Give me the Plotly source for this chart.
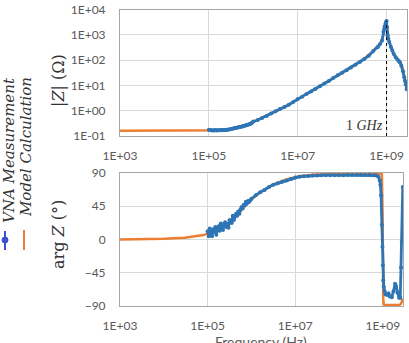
import plotly.graph_objects as go

# ---------------- data ----------------
# VNA measurement (frequency in Hz)
meas_freq = [
    1.00e5, 1.06e5, 1.12e5, 1.19e5, 1.26e5, 1.33e5, 1.41e5, 1.50e5, 1.58e5, 1.68e5,
    1.78e5, 1.88e5, 2.00e5, 2.11e5, 2.24e5, 2.37e5, 2.51e5, 2.66e5, 2.82e5, 2.99e5,
    3.16e5, 3.35e5, 3.55e5, 3.76e5, 3.98e5, 4.22e5, 4.47e5, 4.73e5, 5.01e5, 5.31e5,
    5.62e5, 5.96e5, 6.31e5, 6.68e5, 7.08e5, 7.50e5, 7.94e5, 8.41e5, 8.91e5, 9.44e5,
    1.00e6, 1.26e6, 1.58e6, 2.00e6, 2.51e6, 3.16e6, 3.98e6, 5.01e6, 6.31e6, 7.94e6,
    1.00e7, 1.26e7, 1.58e7, 2.00e7, 2.51e7, 3.16e7, 3.98e7, 5.01e7, 6.31e7, 7.94e7,
    1.00e8, 1.26e8, 1.58e8, 2.00e8, 2.51e8, 3.16e8, 3.98e8, 5.01e8, 6.31e8, 7.08e8,
    7.94e8, 8.50e8, 8.80e8, 9.10e8, 9.50e8, 9.80e8,
    1.00e9, 1.02e9, 1.05e9, 1.10e9, 1.15e9, 1.25e9, 1.35e9, 1.45e9, 1.60e9, 1.75e9,
    1.90e9, 2.00e9, 2.15e9, 2.35e9, 2.50e9, 2.60e9, 2.70e9, 2.85e9,
]
meas_mag = [
    0.175, 0.172, 0.170, 0.166, 0.168, 0.166, 0.171, 0.165, 0.167, 0.169,
    0.168, 0.171, 0.170, 0.172, 0.173, 0.172, 0.175, 0.177, 0.180, 0.184,
    0.190, 0.194, 0.200, 0.203, 0.208, 0.212, 0.216, 0.221, 0.226, 0.232,
    0.238, 0.245, 0.252, 0.260, 0.268, 0.278, 0.288, 0.300, 0.315, 0.335,
    0.37, 0.43, 0.52, 0.62, 0.78, 0.96, 1.18, 1.40, 1.72, 2.20,
    2.9, 3.6, 4.6, 5.8, 7.2, 9.2, 11.8, 15.0, 19.5, 25.0,
    31.5, 40.0, 51.0, 66.0, 85.0, 110.0, 150.0, 230.0, 320.0, 420.0,
    600.0, 1300.0, 1700.0, 2200.0, 2800.0, 3300.0,
    3500.0, 2000.0, 950.0, 700.0, 520.0, 330.0, 240.0, 175.0, 130.0, 105.0,
    90.0, 80.0, 60.0, 36.0, 21.0, 15.0, 11.0, 7.0,
]
meas_phase = [
    11, 4.5, 15, 7, 4.5, 14, 10, 17, 6.5, 15,
    18, 12, 21.5, 15, 13, 21, 23.5, 17, 21, 16,
    26, 26, 22.5, 32, 26.5, 31, 35, 32, 38, 35,
    41, 44, 42, 47, 46.5, 51, 49, 52, 51, 53,
    55, 60, 64, 67, 71, 74, 76, 78, 80, 82,
    84, 85, 85.5, 86, 86.5, 86.5, 87, 87, 87, 87,
    87, 87, 87.5, 87.5, 87.5, 87.5, 87.5, 87.5, 87, 86.5,
    85, 80, 74, 60, 20, -10,
    -35, -55, -64, -70, -74, -75, -73, -77, -78, -70,
    -60, -63, -72, -79, -79, -38, -3, 71,
]

# Model calculation
model_freq_mag = [
    1e3, 1e4, 1e5, 2e5, 3e5, 5e5, 1e6, 2e6, 5e6, 1e7, 2e7, 5e7, 1e8, 2e8, 3e8,
    5e8, 7e8, 8e8, 9e8, 9.5e8, 1e9, 1.05e9, 1.1e9, 1.2e9, 1.4e9, 1.6e9, 1.8e9,
    2.0e9, 2.2e9, 2.4e9, 2.6e9, 2.85e9,
]
model_mag = [
    0.16, 0.16, 0.165, 0.17, 0.185, 0.22, 0.36, 0.62, 1.35, 2.9, 5.8, 15, 31, 66, 105,
    230, 420, 700, 1500, 2500, 3500, 1000, 700, 400, 190, 135, 105,
    90, 64, 34, 17, 8,
]
model_freq_phase = [
    1e3, 3e3, 1e4, 3e4, 5e4, 8e4, 1e5, 1.5e5, 2e5, 3e5, 4.5e5, 6.5e5, 9e5, 1.5e6,
    3e6, 6e6, 1.2e7, 3e7, 1e8, 3e8, 6e8, 8e8, 9e8, 9.5e8, 9.9e8, 1.02e9, 1.05e9,
    1.1e9, 1.5e9, 2e9, 2.4e9, 2.6e9, 2.75e9, 2.85e9,
]
model_phase = [
    0.1, 0.3, 0.9, 2.5, 4, 6, 8, 11, 15, 22, 32, 43, 52, 63,
    74, 81, 85.5, 88, 89, 89.2, 89.2, 89.2, 89, 88, 30, -80, -88,
    -88.5, -88.5, -88.5, -88.5, -87, -84, -80,
]

x_ticks = [1e3, 1e5, 1e7, 1e9]
x_tick_text = ["1E+03", "1E+05", "1E+07", "1E+09"]
mag_ticks = [0.1, 1, 10, 100, 1000, 10000]
mag_tick_text = ["1E-01", "1E+00", "1E+01", "1E+02", "1E+03", "1E+04"]
phase_ticks = [-90, -45, 0, 45, 90]
marker_freq = 1e9

# ---------------- style ----------------
W, H = 409, 343
BLUE = "#2E75B6"
ORANGE = "#ED7D31"
LEG_BLUE = "#3B4FD0"
GRID = "#D9D9D9"
FRAME = "#A6A6A6"
TXT = "#595959"
TICKFONT = dict(family="Lato", size=12, color=TXT)
SERIF = "DejaVu Serif"


def px_x(p):
    return p / W


def px_y(p):
    return 1 - p / H


fig = go.Figure()

# model first (beneath)
fig.add_trace(go.Scatter(x=model_freq_mag, y=model_mag, mode="lines",
                         line=dict(color=ORANGE, width=2.5), xaxis="x", yaxis="y",
                         showlegend=False))
fig.add_trace(go.Scatter(x=meas_freq, y=meas_mag, mode="lines+markers",
                         line=dict(color=BLUE, width=2.8),
                         marker=dict(color=BLUE, size=4), xaxis="x", yaxis="y",
                         showlegend=False))
fig.add_trace(go.Scatter(x=model_freq_phase, y=model_phase, mode="lines",
                         line=dict(color=ORANGE, width=2.5), xaxis="x2", yaxis="y2",
                         showlegend=False))
fig.add_trace(go.Scatter(x=meas_freq, y=meas_phase, mode="lines+markers",
                         line=dict(color=BLUE, width=2.8),
                         marker=dict(color=BLUE, size=4), xaxis="x2", yaxis="y2",
                         showlegend=False))
# 1 GHz dashed marker line
fig.add_trace(go.Scatter(x=[marker_freq, marker_freq], y=[0.1, max(meas_mag)], mode="lines",
                         line=dict(color="black", width=1, dash="dot"),
                         xaxis="x", yaxis="y", showlegend=False))

xcommon = dict(type="log", range=[3, 9.46], tickvals=x_ticks, ticktext=x_tick_text,
               tickfont=TICKFONT, showgrid=True, gridcolor=GRID, gridwidth=1,
               showline=True, linecolor=FRAME, linewidth=1, mirror=True,
               ticks="", zeroline=False, ticklabelstandoff=9, automargin=False)

fig.update_layout(
    width=W, height=H,
    margin=dict(l=0, r=0, t=0, b=0, autoexpand=False),
    paper_bgcolor="white", plot_bgcolor="white",
    showlegend=False,
    xaxis=dict(domain=[px_x(120), px_x(407)], anchor="y", **xcommon),
    yaxis=dict(domain=[px_y(136), px_y(9.5)], anchor="x", type="log", range=[-1, 4],
               tickvals=mag_ticks, ticktext=mag_tick_text, tickfont=TICKFONT,
               showgrid=True, gridcolor=GRID, showline=True, linecolor=FRAME,
               mirror=True, ticks="", zeroline=False, ticklabelstandoff=11,
               automargin=False),
    xaxis2=dict(domain=[px_x(120), px_x(403)], anchor="y2", **xcommon),
    yaxis2=dict(domain=[px_y(306), px_y(173)], anchor="x2", range=[-90, 90],
                tickvals=phase_ticks, tickfont=TICKFONT,
                showgrid=True, gridcolor=GRID, showline=True, linecolor=FRAME,
                mirror=True, ticks="", zeroline=False, ticklabelstandoff=11,
                automargin=False),
)

ann = []
# y-axis titles
common_rot = dict(xref="paper", yref="paper", textangle=-90, showarrow=False,
                  xanchor="center", yanchor="middle")
ann.append(dict(text="|<i>Z</i>| (Ω)", x=px_x(58), y=px_y(80),
                font=dict(family=SERIF, size=16, color="#333333"), **common_rot))
ann.append(dict(text="arg <i>Z</i> (°)", x=px_x(58), y=px_y(234),
                font=dict(family=SERIF, size=16, color="#333333"), **common_rot))
# rotated legend labels
ann.append(dict(text="<i>VNA Measurement</i>", x=px_x(9), y=px_y(150),
                font=dict(family=SERIF, size=15, color="#333333"), **common_rot))
ann.append(dict(text="<i>Model Calculation</i>", x=px_x(26), y=px_y(147),
                font=dict(family=SERIF, size=15, color="#333333"), **common_rot))
# x title (partly cut off at bottom, as in the original)
ann.append(dict(text="Frequency (Hz)", x=px_x(261), y=px_y(331), xref="paper", yref="paper",
                xanchor="center", yanchor="top", showarrow=False,
                font=dict(family="Lato", size=14, color=TXT)))
# 1 GHz label
ann.append(dict(text="1 <i>GHz</i>", x=9, y=-1, xref="x", yref="y", xanchor="right",
                yanchor="bottom", xshift=-2, yshift=1, showarrow=False,
                font=dict(family="Liberation Serif", size=14, color="#333333")))
fig.update_layout(annotations=ann)

# legend icons
fig.add_shape(type="line", xref="paper", yref="paper", x0=px_x(5), x1=px_x(5),
              y0=px_y(231), y1=px_y(250), line=dict(color=LEG_BLUE, width=2))
fig.add_shape(type="circle", xref="paper", yref="paper", x0=px_x(2), x1=px_x(8),
              y0=px_y(237), y1=px_y(243), fillcolor=LEG_BLUE, line=dict(color=LEG_BLUE, width=1))
fig.add_shape(type="line", xref="paper", yref="paper", x0=px_x(24), x1=px_x(24),
              y0=px_y(230), y1=px_y(250), line=dict(color=ORANGE, width=2))

fig.write_html("out.html")
